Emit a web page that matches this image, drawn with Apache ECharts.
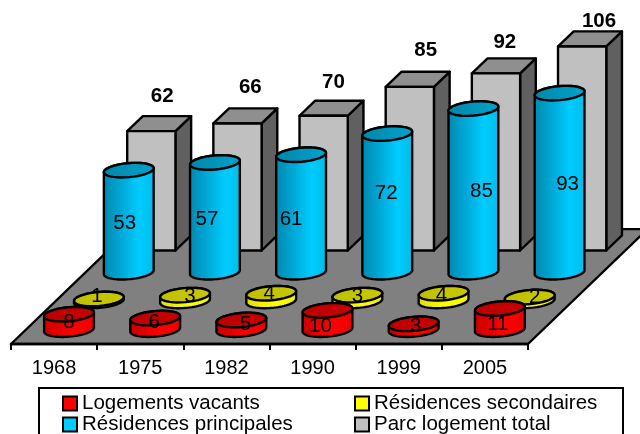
<!DOCTYPE html>
<html>
<head>
<meta charset="utf-8">
<style>
  html, body { margin: 0; padding: 0; background: #fff; }
  #chart { width: 640px; height: 434px; }
</style>
</head>
<body>
<div id="chart"></div>
<script src="https://cdn.jsdelivr.net/npm/echarts@6/dist/echarts.min.js"></script>
<script>
const years = ['1968', '1975', '1982', '1990', '1999', '2005']
const vacants = [8, 6, 5, 10, 3, 11]
const secondaires = [1, 3, 4, 3, 4, 2]
const principales = [53, 57, 61, 72, 85, 93]
const parc = [62, 66, 70, 85, 92, 106]

// the labels in the original sit a bit off centre, pixels
const vacantsNudge = [[0, 0], [-1, -2], [4, 0], [-7, 6], [2, 0], [-2, 5]]
const secondairesNudge = [[-2, -4], [5, -2], [-2, -4], [0, -2], [-2, -2], [5, -2]]
const principalesNudge = [[-4, 2], [-8, 2], [-10, 6], [-1, -10], [8, 1], [8, 2]]
const parcNudge = [[3, -27], [5, -29], [2, -26], [8, -29], [1, -24], [9, -18]]

const font = '"Liberation Sans", Arial, sans-serif'
const SKEW = 1.04    // horizontal shift per pixel of depth
const ROWS = 4 / 3   // floor depth, in category widths
const TILT = -5 * Math.PI / 180
const OUTLINE = { stroke: '#000', lineWidth: 2.4, lineJoin: 'round' }

// oblique projection: value axis gives the height, depth slides up and to the right
function project(api, cat, value, depth) {
    const p = api.coord([cat, value])
    const band = api.size([1, 0])[0]
    return [p[0] + depth * band * SKEW, p[1] - depth * band]
}

function ellipsePoints(c, rx, ry, from, to) {
    const points = []
    const steps = 36
    for (let i = 0; i <= steps; i++) {
        const t = from + (to - from) * i / steps
        const x = rx * Math.cos(t)
        const y = ry * Math.sin(t)
        points.push([
            c[0] + x * Math.cos(TILT) - y * Math.sin(TILT),
            c[1] + x * Math.sin(TILT) + y * Math.cos(TILT)
        ])
    }
    return points
}

function horizontal(stops) {
    return {
        type: 'linear', x: 0, y: 0, x2: 1, y2: 0,
        colorStops: stops.map(([offset, color]) => ({ offset, color }))
    }
}

function valueText(text, p, nudge, bold) {
    return {
        type: 'text',
        style: {
            text: text,
            x: p[0] + nudge[0],
            y: p[1] + nudge[1],
            fill: '#000',
            align: 'center',
            verticalAlign: 'middle',
            font: (bold ? 'bold ' : '') + '20.5px ' + font
        }
    }
}

function cylinderItem(row, nudges, bodyStops, capStops) {
    return (params, api) => {
        const cat = api.value(0)
        const value = api.value(1)
        const band = api.size([1, 0])[0]
        const depth = (row + 0.5) / 3
        const rx = band * 0.29
        const ry = 7
        const base = project(api, cat, 0, depth)
        const top = project(api, cat, value, depth)
        const mid = project(api, cat, value / 2, depth)
        const body = ellipsePoints(base, rx, ry, Math.PI, 0).concat(ellipsePoints(top, rx, ry, 0, -Math.PI))
        return {
            type: 'group',
            children: [
                { type: 'polygon', shape: { points: body }, style: { fill: horizontal(bodyStops), ...OUTLINE } },
                { type: 'polygon', shape: { points: ellipsePoints(top, rx, ry, 0, Math.PI * 2) }, style: { fill: horizontal(capStops), ...OUTLINE } },
                valueText(String(value), mid, nudges[cat], false)
            ]
        }
    }
}

function boxItem(params, api) {
    const cat = api.value(0)
    const value = api.value(1)
    const band = api.size([1, 0])[0]
    const half = band * 0.28
    const near = 1.085
    const far = 1.26
    const corner = (dx, v, depth) => {
        const p = project(api, cat, v, depth)
        return [p[0] + dx, p[1]]
    }
    const centre = project(api, cat, value, (near + far) / 2)
    return {
        type: 'group',
        children: [
            {
                type: 'polygon',
                shape: { points: [corner(half, 0, near), corner(half, 0, far), corner(half, value, far), corner(half, value, near)] },
                style: { fill: '#606060', ...OUTLINE }
            },
            {
                type: 'polygon',
                shape: { points: [corner(-half, value, near), corner(half, value, near), corner(half, value, far), corner(-half, value, far)] },
                style: { fill: '#8f8f8f', ...OUTLINE }
            },
            {
                type: 'polygon',
                shape: { points: [corner(-half, 0, near), corner(half, 0, near), corner(half, value, near), corner(-half, value, near)] },
                style: { fill: '#c0c0c0', ...OUTLINE }
            },
            valueText(String(value), centre, parcNudge[cat], true)
        ]
    }
}

function floorItem(params, api) {
    const band = api.size([1, 0])[0]
    const first = project(api, 0, 0, 0)
    const last = project(api, years.length - 1, 0, 0)
    const left = first[0] - band / 2
    const right = last[0] + band / 2
    const dx = ROWS * band * SKEW
    const dy = ROWS * band
    return {
        type: 'polygon',
        shape: { points: [[left, first[1]], [right, first[1]], [right + dx, first[1] - dy], [left + dx, first[1] - dy]] },
        style: { fill: '#808080', ...OUTLINE }
    }
}

const pairs = values => values.map((v, i) => [i, v])
const cylinder = (name, values, z, color, item) => ({
    name, type: 'custom', z, clip: false, silent: true,
    itemStyle: { color },
    encode: { x: 0, y: 1 },
    renderItem: item,
    data: pairs(values)
})

const legendItem = name => ({ name, itemStyle: { borderColor: '#000', borderWidth: 2 } })
const legendBase = {
    orient: 'vertical',
    top: 393,
    height: 80,
    padding: 0,
    itemWidth: 14,
    itemHeight: 14,
    itemGap: 0,
    icon: 'rect',
    selectedMode: false,
    textStyle: { fontFamily: font, fontSize: 20.5, color: '#000', lineHeight: 19 }
}

const chart = echarts.init(document.getElementById('chart'), null, { renderer: 'canvas' })

chart.setOption({
    animation: false,
    backgroundColor: '#fff',
    grid: { left: 11, right: 112, top: 36, bottom: 90 },
    xAxis: {
        type: 'category',
        data: years,
        z: 10,
        axisLine: { show: true, lineStyle: { color: '#000', width: 2.4 } },
        axisTick: { show: true, alignWithLabel: false, length: 6, lineStyle: { color: '#000', width: 2 } },
        axisLabel: { color: '#000', fontFamily: font, fontSize: 20, margin: 14 }
    },
    yAxis: { type: 'value', min: 0, max: 160, show: false },
    legend: [
        { ...legendBase, left: 62, data: [legendItem('Logements vacants'), legendItem('Résidences principales')] },
        { ...legendBase, left: 354, data: [legendItem('Résidences secondaires'), legendItem('Parc logement total')] }
    ],
    graphic: [{
        type: 'rect',
        shape: { x: 39, y: 388, width: 584, height: 60 },
        style: { fill: '#fff', stroke: '#000', lineWidth: 2 },
        z: -1
    }],
    series: [
        { type: 'custom', name: 'sol', z: 1, clip: false, silent: true, renderItem: floorItem, data: [[0, 0]], encode: { x: 0, y: 1 } },
        cylinder('Parc logement total', parc, 2, '#c0c0c0', boxItem),
        cylinder('Résidences principales', principales, 3, '#00ccff',
            cylinderItem(2, principalesNudge,
                [[0, '#0087ad'], [0.35, '#00a8d6'], [0.7, '#00ccff'], [1, '#00bce8']],
                [[0, '#0086aa'], [1, '#00a3cc']])),
        cylinder('Résidences secondaires', secondaires, 4, '#ffff00',
            cylinderItem(1, secondairesNudge,
                [[0, '#e0e000'], [0.6, '#ffff00'], [1, '#f0f000']],
                [[0, '#c0c000'], [1, '#c8c800']])),
        cylinder('Logements vacants', vacants, 5, '#ff0000',
            cylinderItem(0, vacantsNudge,
                [[0, '#c80000'], [0.6, '#ff0000'], [1, '#ee0000']],
                [[0, '#bb0000'], [1, '#c80000']]))
    ]
})
</script>
</body>
</html>
